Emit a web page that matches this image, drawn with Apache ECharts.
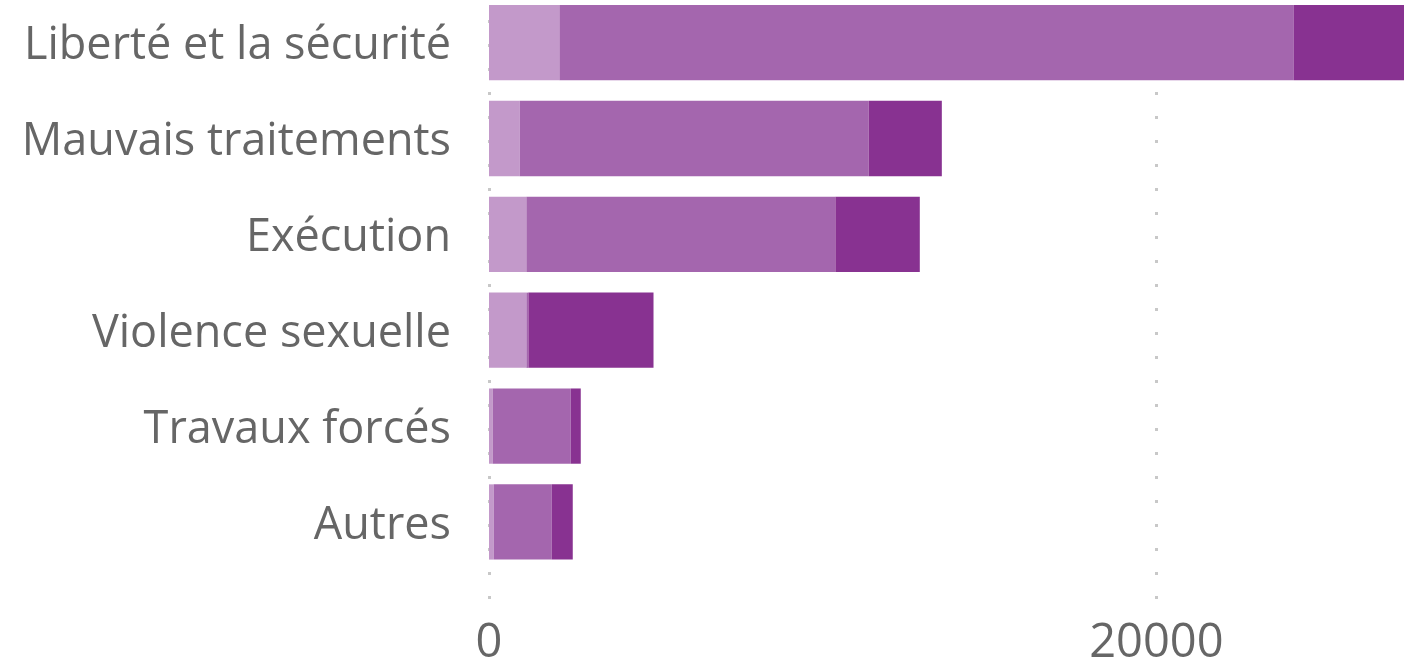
<!DOCTYPE html>
<html><head><meta charset="utf-8">
<script src="https://cdn.jsdelivr.net/npm/echarts@6/dist/echarts.min.js"></script>
<style>html,body{margin:0;padding:0;background:#fff;overflow:hidden}
#wrap{position:relative;width:1404px;height:672px;overflow:hidden}
#c{position:absolute;left:0;top:-10px;width:1404px;height:682px}</style>
</head><body><div id="wrap"><div id="c"></div></div>
<script>
const categories = ["Liberté et la sécurité","Mauvais traitements","Exécution","Violence sexuelle","Travaux forcés","Autres"];
const seriesA = [2110, 920, 1120, 1120, 110, 140];
const seriesB = [22010, 10460, 9260, 60, 2340, 1740];
const seriesC = [3300, 2190, 2530, 3750, 300, 630];
const xTicks = [0, 20000];
const colors = ["#c399ca", "#a466ae", "#883291"];

const totals = categories.map((_, i) => seriesA[i] + seriesB[i] + seriesC[i]);
const xMax = Math.max(...totals);
const step = xTicks[1] - xTicks[0];
const FONT = "Open Sans";
const OFF = 10; // container shifted up by OFF px

const chart = echarts.init(document.getElementById('c'));
chart.setOption({
  animation: false,
  grid: [
    {left: 489, right: 0, top: -5.3 + OFF, height: 575.2, outerBoundsMode: 'none'},
    {left: 489, right: 0, top: -4 + OFF, height: 604, outerBoundsMode: 'none'}
  ],
  xAxis: [
    {gridIndex: 0, type: 'value', min: 0, max: xMax, show: false},
    {gridIndex: 1, type: 'value', min: 0, max: xMax, interval: step,
     axisLine: {show: false}, axisTick: {show: false},
     splitLine: {show: true, showMaxLine: false, lineStyle: {color: '#c8c8c8', width: 3, type: [3, 21]}},
     axisLabel: {fontFamily: FONT, fontSize: 47, color: '#666', margin: 20, showMaxLabel: false,
       formatter: v => xTicks.includes(v) ? String(v) : ''}}
  ],
  yAxis: [
    {gridIndex: 0, type: 'category', data: categories, inverse: true,
     axisLine: {show: false}, axisTick: {show: false}, splitLine: {show: false},
     axisLabel: {margin: 38, formatter: v => '{a|' + v + '}',
       rich: {a: {fontFamily: FONT, fontSize: 45, color: '#666', padding: [8, 0, 0, 0]}}}},
    {gridIndex: 1, type: 'value', show: false, min: 0, max: 1}
  ],
  series: [seriesA, seriesB, seriesC].map((d, i) => ({
    type: 'bar', stack: 'total', xAxisIndex: 0, yAxisIndex: 0,
    data: d, barCategoryGap: '21.5%', itemStyle: {color: colors[i]}
  }))
});
</script></body></html>
